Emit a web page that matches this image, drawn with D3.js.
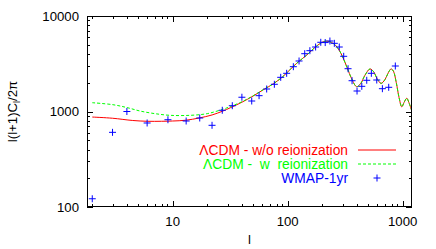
<!DOCTYPE html>
<html><head><meta charset="utf-8">
<script src="https://cdn.jsdelivr.net/npm/d3@7"></script>
<style>body{margin:0;background:#fff}svg{display:block;font-family:"Liberation Sans",Arial,sans-serif}</style>
</head><body><svg id="c" width="436" height="249"></svg>
<script>
// WMAP-1yr data points (l, value)
const wmapL = [2,3,4,6,9.1,13.1,17.2,22,27,33,40,48.7,56.4,65.7,76.6,87,98,112,125.6,140.7,156,175,194,212,233,254.5,281,307,335,363,401,441,487,534,595,666,756,863];
const wmapV = [122,605,1000,758,820,795,855,717,1030,1150,1410,1288,1465,1720,1927,2280,2512,2946,3380,4030,4334,4735,5305,5270,5472,5176,4735,3784,2806,2101,1639,1835,2122,2512,2137,1733,1792,2995];
// LCDM without reionization
const noReL = [2,3,4.5,6,8,10,13,17,22,27,32,40,50,61,75,90,105,120,150,175,204,220,240,260,280,300,330,360,398,430,470,520,560,600,649,700,750,792,830,880,930,982,1030,1085,1130,1205];
const noReV = [875,850,805,790,790,795,810,855,920,1005,1100,1250,1450,1680,1950,2300,2750,3200,4000,4750,5380,5450,5300,4950,4400,3750,2850,2200,1820,1950,2400,2790,2600,2200,1970,2150,2550,2790,2650,2000,1400,1120,1250,1375,1250,1000];
// LCDM with reionization
const reL = [2,3,4,5.2,7,9.5,14.2,20,27.6,32,40,50,61,75,90,105,120,150,175,204,220,240,260,280,300,330,360,398,430,470,520,560,600,649,700,750,792,830,880,930,982,1030,1085,1130,1205];
const reV = [1236,1180,1100,1012,950,912,912,950,1060,1130,1265,1460,1690,1950,2300,2750,3200,4000,4750,5380,5450,5300,4950,4400,3750,2850,2200,1820,1950,2400,2790,2600,2200,1970,2150,2550,2790,2650,2000,1400,1120,1250,1375,1250,1000];
const xTicks = [10,100,1000];
const yTicks = [100,1000,10000];
const legendLabels = ["\u039BCDM - w/o reionization","\u039BCDM -  w  reionization","WMAP-1yr"];

const svg = d3.select("#c");
const L=87, R=412, T=16, B=207;
const x = d3.scaleLog().domain([1.8,1205]).range([L,R]);
const y = d3.scaleLog().domain([100,10000]).range([B,T]);

const clip = svg.append("clipPath").attr("id","cp").append("rect").attr("x",L).attr("y",T).attr("width",R-L).attr("height",B-T);

// minor ticks
function minors(dom){const out=[];for(let d=1;d<=1000;d*=10)for(let k=2;k<=9;k++){const v=k*d;if(v>=dom[0]&&v<=dom[1])out.push(v);}return out;}
const g = svg.append("g").attr("stroke","#000").attr("stroke-width",1);
minors(x.domain()).forEach(v=>{const px=Math.round(x(v))+0.5;g.append("line").attr("x1",px).attr("x2",px).attr("y1",B).attr("y2",B-3);g.append("line").attr("x1",px).attr("x2",px).attr("y1",T).attr("y2",T+3);});
xTicks.forEach(v=>{const px=Math.round(x(v))+0.5;g.append("line").attr("x1",px).attr("x2",px).attr("y1",B).attr("y2",B-6);g.append("line").attr("x1",px).attr("x2",px).attr("y1",T).attr("y2",T+6);});
minors(y.domain()).forEach(v=>{const py=Math.round(y(v))+0.5;g.append("line").attr("x1",L).attr("x2",L+3).attr("y1",py).attr("y2",py);g.append("line").attr("x1",R).attr("x2",R-3).attr("y1",py).attr("y2",py);});
yTicks.forEach(v=>{const py=Math.round(y(v))+0.5;g.append("line").attr("x1",L).attr("x2",L+6).attr("y1",py).attr("y2",py);g.append("line").attr("x1",R).attr("x2",R-6).attr("y1",py).attr("y2",py);});

// tick labels
svg.append("g").selectAll("text").data(xTicks).join("text").attr("x",d=>x(d)).attr("y",226).attr("text-anchor","middle").attr("font-size",13.2).text(d=>d);
svg.append("g").selectAll("text").data(yTicks).join("text").attr("x",79).attr("y",d=>y(d)+4.7).attr("text-anchor","end").attr("font-size",13.2).text(d=>d);

// axis titles
svg.append("text").attr("x",249.5).attr("y",244).attr("text-anchor","middle").attr("font-size",13.2).text("l");
const yt = svg.append("text").attr("transform","translate(17,111.5) rotate(-90)").attr("text-anchor","middle").attr("font-size",13.2);
yt.append("tspan").text("l(l+1)C");
yt.append("tspan").attr("font-size",9).attr("dy",3).text("l");
yt.append("tspan").attr("dy",-3).text("/2\u03C0");

// curves
const line = d3.line().x(d=>x(d[0])).y(d=>y(d[1])).curve(d3.curveCatmullRom.alpha(0.5));
const pg = svg.append("g").attr("clip-path","url(#cp)");
pg.append("path").attr("d",line(noReL.map((l,i)=>[l,noReV[i]]))).attr("fill","none").attr("stroke","#ff0000").attr("stroke-width",1);
pg.append("path").attr("d",line(reL.map((l,i)=>[l,reV[i]]))).attr("fill","none").attr("stroke","#00ff00").attr("stroke-width",1).attr("stroke-dasharray","3,2");
// points
const s=3.5;
pg.append("g").selectAll("path").data(wmapL.map((l,i)=>[l,wmapV[i]])).join("path")
  .attr("d",d=>{const px=x(d[0]),py=y(d[1]);return `M${px-s},${py}H${px+s}M${px},${py-s}V${py+s}`;})
  .attr("stroke","#0000ff").attr("stroke-width",1).attr("fill","none");

// frame
svg.append("rect").attr("x",L+0.5).attr("y",T+0.5).attr("width",R-L-1).attr("height",B-T-1).attr("fill","none").attr("stroke","#000").attr("stroke-width",1);

// legend
const colors=["#ff0000","#00ff00","#0000ff"];
const ly=[150,164,178];
legendLabels.forEach((t,i)=>{
  svg.append("text").attr("x",348).attr("y",ly[i]+4.8).attr("text-anchor","end").attr("font-size",13.8).attr("fill",colors[i]).attr("xml:space","preserve").style("white-space","pre").text(t);
});
svg.append("line").attr("x1",358).attr("x2",396).attr("y1",ly[0]).attr("y2",ly[0]).attr("stroke","#ff0000").attr("stroke-width",1);
svg.append("line").attr("x1",358).attr("x2",396).attr("y1",ly[1]).attr("y2",ly[1]).attr("stroke","#00ff00").attr("stroke-width",1).attr("stroke-dasharray","3,2");
svg.append("path").attr("d",`M${377-s},${ly[2]}H${377+s}M377,${ly[2]-s}V${ly[2]+s}`).attr("stroke","#0000ff").attr("stroke-width",1);
</script></body></html>
